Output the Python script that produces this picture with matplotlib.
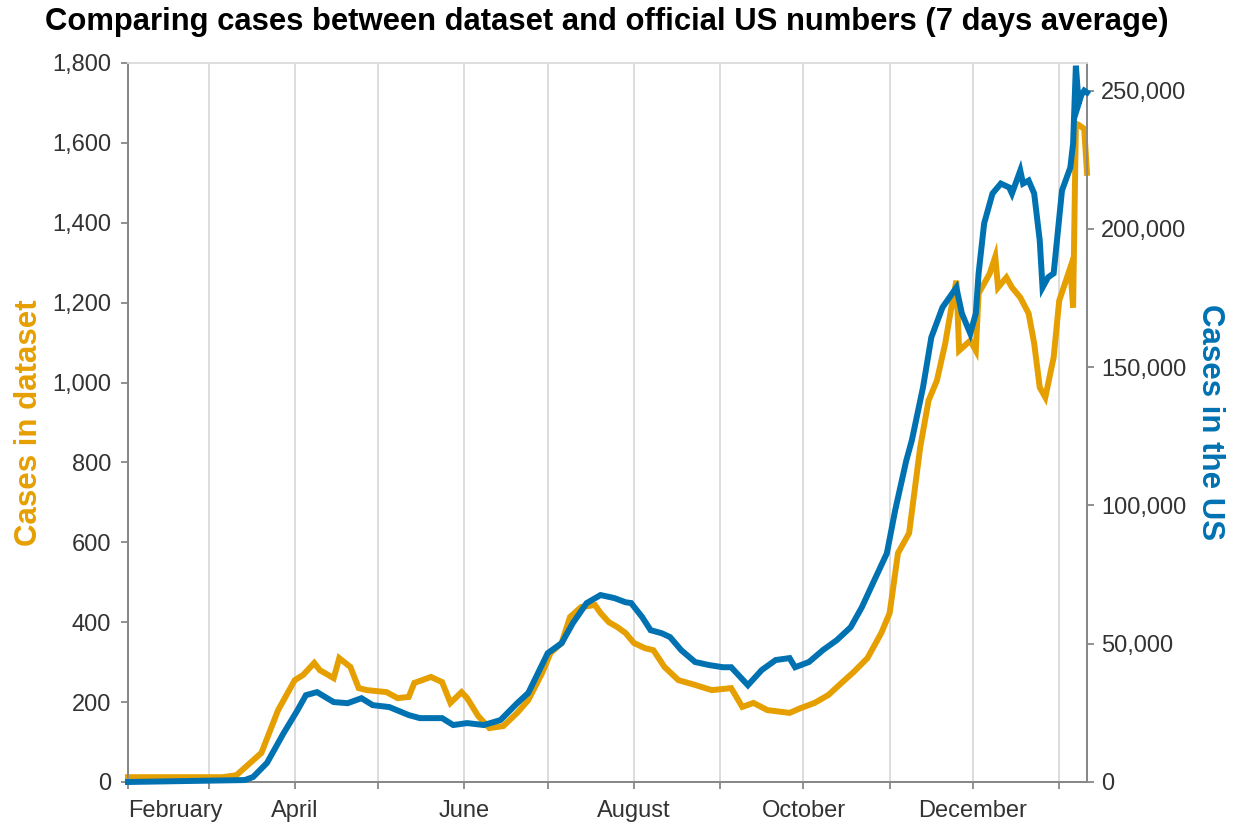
import pandas as pd
import matplotlib
matplotlib.use("Agg")
import matplotlib.pyplot as plt
import matplotlib.dates as mdates
from matplotlib.ticker import FuncFormatter

# 7 day average of daily cases
dataset_dates = [
    "2020-02-01", "2020-03-06", "2020-03-11", "2020-03-20", "2020-03-26", "2020-04-01",
    "2020-04-04", "2020-04-08", "2020-04-10", "2020-04-15", "2020-04-17", "2020-04-21",
    "2020-04-24", "2020-04-27", "2020-05-04", "2020-05-08", "2020-05-12", "2020-05-14",
    "2020-05-20", "2020-05-24", "2020-05-27", "2020-05-31", "2020-06-02", "2020-06-06",
    "2020-06-10", "2020-06-15", "2020-06-20", "2020-06-24", "2020-06-29", "2020-07-02",
    "2020-07-06", "2020-07-09", "2020-07-13", "2020-07-18", "2020-07-20", "2020-07-23",
    "2020-07-26", "2020-07-29", "2020-08-01", "2020-08-05", "2020-08-08", "2020-08-12",
    "2020-08-17", "2020-08-23", "2020-08-29", "2020-09-05", "2020-09-09", "2020-09-13",
    "2020-09-18", "2020-09-26", "2020-09-30", "2020-10-05", "2020-10-10", "2020-10-15",
    "2020-10-19", "2020-10-24", "2020-10-29", "2020-11-01", "2020-11-04", "2020-11-08",
    "2020-11-12", "2020-11-15", "2020-11-18", "2020-11-21", "2020-11-23", "2020-11-25",
    "2020-11-26", "2020-11-30", "2020-12-02", "2020-12-03", "2020-12-07", "2020-12-09",
    "2020-12-10", "2020-12-13", "2020-12-15", "2020-12-18", "2020-12-21", "2020-12-23",
    "2020-12-25", "2020-12-27", "2020-12-30", "2021-01-01", "2021-01-05", "2021-01-06",
    "2021-01-07", "2021-01-08", "2021-01-09", "2021-01-10", "2021-01-11",
]
dataset_cases = [
    12, 12, 17, 73, 180, 255,
    268, 298, 280, 260, 310, 288,
    235, 230, 225, 210, 213, 248,
    263, 250, 198, 225, 210, 165,
    135, 140, 173, 205, 273, 323,
    348, 413, 438, 443, 423, 400,
    388, 373, 348, 335, 330, 288,
    255, 243, 230, 235, 188, 198,
    180, 173, 185, 198, 218, 250,
    275, 310, 373, 423, 573, 623,
    838, 955, 1005, 1098, 1180, 1255,
    1080, 1105, 1080, 1223, 1273, 1315,
    1238, 1263, 1238, 1213, 1173, 1098,
    988, 963, 1063, 1205, 1288, 1188,
    1648, 1645, 1640, 1635, 1525,
]

us_dates = [
    "2020-02-01", "2020-03-14", "2020-03-17", "2020-03-22", "2020-03-28", "2020-04-02",
    "2020-04-05", "2020-04-09", "2020-04-15", "2020-04-20", "2020-04-25", "2020-04-29",
    "2020-05-05", "2020-05-12", "2020-05-16", "2020-05-24", "2020-05-28", "2020-06-02",
    "2020-06-08", "2020-06-14", "2020-06-20", "2020-06-24", "2020-07-01", "2020-07-06",
    "2020-07-10", "2020-07-15", "2020-07-20", "2020-07-25", "2020-07-29", "2020-07-31",
    "2020-08-04", "2020-08-07", "2020-08-11", "2020-08-14", "2020-08-18", "2020-08-23",
    "2020-08-28", "2020-09-02", "2020-09-05", "2020-09-11", "2020-09-16", "2020-09-21",
    "2020-09-26", "2020-09-28", "2020-10-03", "2020-10-08", "2020-10-13", "2020-10-18",
    "2020-10-22", "2020-10-26", "2020-10-31", "2020-11-03", "2020-11-07", "2020-11-09",
    "2020-11-13", "2020-11-16", "2020-11-20", "2020-11-25", "2020-11-27", "2020-11-30",
    "2020-12-02", "2020-12-03", "2020-12-05", "2020-12-08", "2020-12-11", "2020-12-14",
    "2020-12-15", "2020-12-18", "2020-12-19", "2020-12-21", "2020-12-23", "2020-12-25",
    "2020-12-26", "2020-12-28", "2020-12-30", "2021-01-02", "2021-01-05", "2021-01-06",
    "2021-01-07", "2021-01-08", "2021-01-09", "2021-01-10", "2021-01-11",
]
us_cases = [
    5, 700, 1800, 6900, 17700, 26000,
    31400, 32500, 28900, 28500, 30300, 27800,
    27100, 24200, 23100, 23100, 20600, 21300,
    20600, 22400, 28500, 32200, 46600, 50200,
    57400, 64700, 67600, 66500, 65000, 64700,
    59600, 54900, 53800, 52400, 47700, 43400,
    42300, 41500, 41500, 35000, 40500, 44100,
    44800, 41500, 43400, 47700, 51300, 56000,
    63200, 71900, 82700, 98300, 116300, 123600,
    142700, 160800, 171600, 178800, 169400, 162200,
    169400, 183900, 202000, 212800, 216400, 215000,
    212800, 221100, 216400, 217500, 212800, 195800,
    178800, 182500, 183900, 213900, 222200, 230900,
    259000, 245300, 248500, 250000, 249300,
]

orange = "#E69F00"
blue = "#0072B2"
axis_grey = "#888888"
text_grey = "#333333"

ds = pd.to_datetime(dataset_dates)
us = pd.to_datetime(us_dates)

plt.rcParams["font.family"] = ["Liberation Sans", "DejaVu Sans"]

fig = plt.figure(figsize=(12.36, 8.24), dpi=100)
ax = fig.add_axes([128 / 1236, 42 / 824, (1087 - 128) / 1236, (782 - 63) / 824])
ax2 = ax.twinx()

ax.plot(ds, dataset_cases, color=orange, lw=4.3, solid_joinstyle="miter", clip_on=False, zorder=3)
ax2.plot(us, us_cases, color=blue, lw=4.3, solid_joinstyle="miter", clip_on=False, zorder=3)

ax.set_xlim(ds[0], ds[-1])
ax.set_ylim(0, 1800)
ax2.set_ylim(0, 260000)

ax.xaxis.set_major_locator(mdates.MonthLocator(bymonth=[2, 4, 6, 8, 10, 12]))
ax.xaxis.set_minor_locator(mdates.MonthLocator())
ax.xaxis.set_major_formatter(mdates.DateFormatter("%B"))
ax.grid(True, axis="x", which="both", color="#dddddd", lw=1.4, zorder=0)
ax.set_axisbelow(True)

ax.set_yticks(range(0, 1801, 200))
ax2.set_yticks(range(0, 250001, 50000))
comma = FuncFormatter(lambda v, p: f"{int(v):,}")
ax.yaxis.set_major_formatter(comma)
ax2.yaxis.set_major_formatter(comma)

for a in (ax, ax2):
    a.tick_params(axis="both", which="both", length=5, width=1.3, color=axis_grey,
                  labelsize=17, labelcolor=text_grey, pad=7)
    for side in ("left", "right", "bottom"):
        a.spines[side].set_color(axis_grey)
        a.spines[side].set_linewidth(1.3)
    a.spines["top"].set_color("#dddddd")
    a.spines["top"].set_linewidth(1.3)
ax.tick_params(axis="x", which="both", pad=8)
ax2.tick_params(axis="y", pad=5)

fig.canvas.draw()
for i, lab in enumerate(ax.get_xticklabels()):
    lab.set_ha("left" if i == 0 else "center")

ax.set_ylabel("Cases in dataset", color=orange, fontsize=22.5, fontweight="bold", labelpad=6)
ax2.set_ylabel("Cases in the US", color=blue, fontsize=22.5, fontweight="bold",
               rotation=270, labelpad=28)

fig.suptitle("Comparing cases between dataset and official US numbers (7 days average)",
             x=607 / 1236, y=1 - 22 / 824, va="center", fontsize=22.3, fontweight="bold")

fig.savefig("out.png", dpi=100)
